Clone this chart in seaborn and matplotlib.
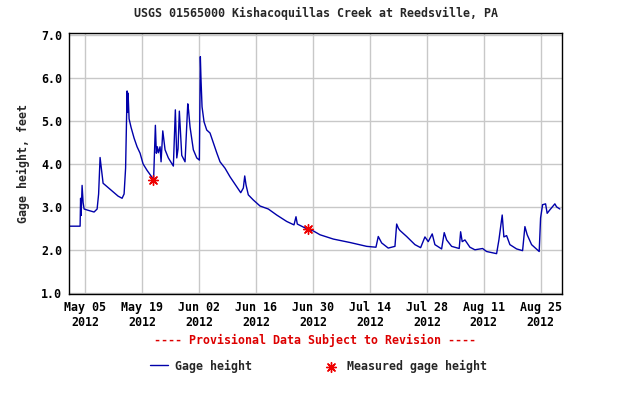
import seaborn as sns
import matplotlib.pyplot as plt
import matplotlib.dates as mdates
import pandas as pd

# gage height record (days after 2012-05-01 00:00, feet)
start = pd.Timestamp('2012-05-01')
days = [0.07, 2.77, 2.89, 3.02, 3.26, 3.51, 3.75, 4.74, 6.21, 6.95, 7.32, 7.68, 7.93,
        8.42, 9.65, 10.88, 12.11, 13.09, 13.58, 13.95, 14.32, 14.44, 14.56, 14.81,
        15.3, 16.04, 16.77, 17.51, 18.25, 19.23, 20.21, 20.83, 21.07, 21.27, 21.51,
        21.76, 22.0, 22.42, 22.67, 23.09, 23.65, 24.46, 25.69, 26.18, 26.53, 26.84,
        27.16, 27.75, 28.56, 29.23, 29.42, 29.79, 30.6, 31.44, 32.08, 32.25, 32.32,
        32.49, 32.74, 33.23, 33.89, 34.7, 35.52, 36.35, 37.16, 38.39, 39.62, 41.26,
        42.25, 42.89, 43.23, 43.55, 44.11, 45.34, 46.99, 49.03, 51.09, 53.55, 55.34,
        55.83, 56.15, 58.46, 60.08, 61.73, 65.0, 69.09, 73.2, 75.48, 76.05, 76.88,
        78.5, 80.15, 80.57, 81.0, 81.38, 83.02, 85.06, 86.46, 87.52, 88.33, 89.31,
        89.97, 91.62, 92.26, 92.85, 94.08, 95.94, 96.29, 96.68, 97.35, 98.57, 99.8,
        101.69, 102.67, 105.13, 105.7, 106.51, 106.92, 107.59, 108.4, 110.05, 111.52,
        112.09, 112.65, 113.73, 115.6, 115.94, 116.43, 117.17, 117.56, 118.22, 119.45,
        119.87, 120.68]
gage = [2.55, 2.55, 3.2, 2.8, 3.5, 3.1, 2.95, 2.92, 2.88, 2.95, 3.3, 4.15, 3.95,
        3.55, 3.45, 3.35, 3.25, 3.2, 3.3, 3.9, 5.7, 5.2, 5.65, 5.05,
        4.85, 4.6, 4.4, 4.25, 4.0, 3.85, 3.72, 3.63, 4.3, 4.9, 4.25,
        4.4, 4.26, 4.4, 4.05, 4.77, 4.33, 4.14, 3.95, 5.26, 4.14, 4.35,
        5.23, 4.2, 4.05, 5.4, 5.25, 4.86, 4.33, 4.14, 4.09, 5.95, 6.5,
        5.95, 5.33, 4.98, 4.79, 4.72, 4.49, 4.26, 4.05, 3.9, 3.7, 3.47,
        3.33, 3.44, 3.72, 3.51, 3.28, 3.16, 3.02, 2.95, 2.81, 2.66, 2.58,
        2.77, 2.6, 2.49, 2.44, 2.35, 2.25, 2.17, 2.08, 2.06, 2.31, 2.16,
        2.04, 2.08, 2.6, 2.5, 2.45, 2.31, 2.12, 2.05, 2.3, 2.19, 2.37,
        2.12, 2.02, 2.4, 2.23, 2.08, 2.03, 2.42, 2.19, 2.23, 2.06, 2.0,
        2.03, 1.96, 1.91, 2.23, 2.81, 2.3, 2.33, 2.12, 2.02, 1.98,
        2.54, 2.35, 2.12, 1.96, 2.74, 3.05, 3.07, 2.85, 2.93, 3.07,
        3.0, 2.95]

# field measurements
meas_days = [20.78, 58.78]
meas_gage = [3.63, 2.49]

title = 'USGS 01565000 Kishacoquillas Creek at Reedsville, PA'
ylabel = 'Gage height, feet'
note = '---- Provisional Data Subject to Revision ----'

df = pd.DataFrame({'date': start + pd.to_timedelta(days, unit='D'), 'gage': gage})
meas = pd.DataFrame({'date': start + pd.to_timedelta(meas_days, unit='D'), 'gage': meas_gage})

sns.set_style('white')
plt.rcParams['font.family'] = ['DejaVu Sans Mono']
plt.rcParams['font.weight'] = 'bold'
fs = 8.4

fig = plt.figure(figsize=(6.29, 3.94), dpi=100)
ax = fig.add_axes([0.1097, 0.2538, 0.7838, 0.6624])

sns.lineplot(data=df, x='date', y='gage', ax=ax, color='#0000aa', linewidth=1.0,
             label='Gage height')
sns.scatterplot(data=meas, x='date', y='gage', ax=ax, color='#ee0000', marker=(8, 2, 0),
                s=50, linewidth=1.0, edgecolor='#ee0000', label='Measured gage height', zorder=5)

ax.set_xlim(pd.Timestamp('2012-05-01 01:00'), pd.Timestamp('2012-08-30 05:00'))
ax.set_ylim(0.97, 7.05)
ax.set_yticks([1, 2, 3, 4, 5, 6, 7])
ax.yaxis.set_major_formatter(plt.FormatStrFormatter('%.1f'))
ax.set_xticks(pd.date_range('2012-05-05', '2012-08-25', freq='14D'))
ax.xaxis.set_major_formatter(mdates.DateFormatter('%b %d\n%Y'))
ax.tick_params(length=0, labelsize=fs, pad=5, colors='black')
for lab in ax.get_xticklabels() + ax.get_yticklabels():
    lab.set_fontweight('bold')
ax.grid(True, color='#c8c8c8', linewidth=1.0)
ax.set_axisbelow(True)
for sp in ax.spines.values():
    sp.set_color('black')
    sp.set_linewidth(1.0)

ax.set_xlabel('')
ax.set_ylabel(ylabel, fontsize=fs, fontweight='bold', labelpad=8)
fig.text(0.502, 0.965, title, ha='center', va='center', fontsize=fs, fontweight='bold')
fig.text(0.5, 0.137, note, ha='center', va='center', fontsize=fs, fontweight='bold',
         color='#dd0000')

ax.legend(loc='center', bbox_to_anchor=(0.506, 0.071), bbox_transform=fig.transFigure,
          ncol=2, frameon=False, fontsize=fs, handlelength=1.55, handletextpad=0.6,
          columnspacing=6.0, prop={'weight': 'bold', 'size': fs})

fig.savefig('out.png', dpi=100)
